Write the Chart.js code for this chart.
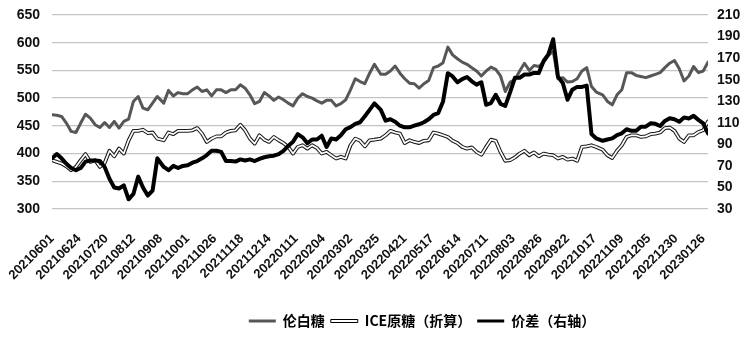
<!DOCTYPE html>
<html lang="zh-CN">
<head>
<meta charset="UTF-8">
<title>伦白糖、ICE原糖与价差</title>
<script src="https://cdn.jsdelivr.net/npm/chart.js@4/dist/chart.umd.min.js"></script>
<style>
  html, body { margin: 0; padding: 0; background: #fff; }
  #wrap { width: 744px; height: 337px; }
</style>
</head>
<body>
<div id="wrap"><canvas id="sugarChart" width="744" height="337"></canvas></div>
<script>
// 横轴：按交易日序号排列，每 17 个交易日标一个日期
const TICK_EVERY = 17;
const LAST_DAY = 411;
const TICK_DATES = [
  '20210601', '20210624', '20210720', '20210812', '20210908', '20211001', '20211026',
  '20211118', '20211214', '20220111', '20220204', '20220302', '20220325', '20220421',
  '20220517', '20220614', '20220711', '20220803', '20220826', '20220922', '20221017',
  '20221109', '20221205', '20221230', '20230126'
];

// 伦白糖（左轴）
const LBT = [
  470, 469, 467, 455, 440, 438, 455, 471, 464, 452,
  447, 456, 447, 458, 446, 458, 462, 494, 503, 482,
  479, 491, 503, 491, 514, 504, 510, 508, 508, 515,
  520, 512, 515, 504, 515, 515, 510, 515, 515, 524,
  518, 506, 490, 494, 510, 504, 496, 502, 497, 491,
  486, 500, 508, 503, 500, 495, 491, 496, 496, 486,
  490, 497, 515, 535, 530, 526, 545, 561, 543, 543,
  549, 558, 545, 535, 527, 526, 518, 526, 532, 555,
  558, 564, 592, 578, 571, 565, 561, 555, 549, 540,
  549, 556, 552, 540, 512, 529, 533, 549, 563, 550,
  559, 557, 565, 577, 585, 535, 537, 529, 530, 535,
  549, 555, 521, 511, 506, 494, 488, 506, 515, 546,
  546, 541, 539, 537, 540, 543, 546, 555, 563, 568,
  553, 531, 540, 557, 546, 549, 565
];

// ICE原糖（折算，左轴）
const ICE = [
  388, 385, 382, 377, 370, 376, 388, 399, 385, 388,
  376, 383, 405, 395, 409, 400, 424, 441, 441, 443,
  437, 438, 427, 424, 438, 435, 441, 441, 441, 442,
  446, 436, 421, 427, 431, 431, 438, 441, 442, 452,
  442, 427, 418, 433, 425, 421, 430, 424, 419, 412,
  400, 412, 415, 409, 415, 410, 400, 403, 397, 391,
  394, 391, 415, 427, 423, 413, 424, 425, 427, 433,
  441, 438, 436, 419, 424, 421, 419, 423, 424, 438,
  436, 433, 430, 423, 419, 412, 409, 411, 403, 398,
  412, 425, 423, 403, 387, 388, 393, 400, 405, 397,
  402, 395, 400, 398, 397, 391, 394, 389, 391, 387,
  412, 413, 415, 412, 407, 397, 392, 405, 415, 430,
  433, 433, 430, 431, 435, 436, 438, 446, 447, 441,
  427, 421, 433, 433, 439, 442, 458
];

// 价差（右轴）
const SPREAD = [
  77, 81, 77, 72, 68, 66, 68, 74, 75, 75,
  74.5, 69, 58, 50, 49, 52, 39, 44, 60, 50,
  42.5, 47, 77, 69, 66, 70, 68, 70, 70.5, 73,
  74.5, 77, 80, 84, 84, 83, 74.5, 74.5, 74, 76,
  75, 76, 74.5, 76.5, 78, 79, 79.5, 81, 84, 88.5,
  92.4, 99.5, 96.5, 91, 94.5, 94.5, 98, 87.5, 95.5, 94.5,
  98.5, 104, 106, 109, 110.5, 116, 122, 128, 122, 112,
  113.3, 111, 107.3, 105.8, 105.8, 107.3, 108.6, 110.5, 113.3, 117.3,
  119, 129.8, 156, 153, 147.5, 150.5, 152.5, 148.5, 145.4, 147.6,
  126.7, 128.3, 136, 127.6, 125.7, 138.2, 151.7, 151.7, 154.8, 154.8,
  156.3, 156.3, 167.3, 173.5, 187.5, 152.6, 147, 131.4, 140.7, 143.3,
  143.3, 144.5, 99.5, 95.5, 93.3, 94.5, 95.5, 98.6, 100.2, 104,
  102.5, 102.5, 106.4, 106.4, 109.5, 109, 107, 111.7, 114.2, 113.3,
  111, 115, 114, 116.4, 112.7, 109.5, 100.2
];

const SERIES_NAMES = ['伦白糖', 'ICE原糖（折算）', '价差（右轴）'];

(() => {
  'use strict';

  const COLORS = {
    lbt: '#575757',
    spread: '#000000',
    iceEdge: '#1a1a1a',
    iceCore: '#ffffff',
    grid: '#c4c4c4',
    text: '#111111'
  };

  // 采样点对应的交易日序号（大约每 3 个交易日取一个点）
  const lastIdx = LBT.length - 1;
  const dayOf = j => Math.round(j * LAST_DAY / lastIdx);
  const toPoints = arr => arr.map((v, j) => ({ x: dayOf(j), y: v }));

  const lineBase = {
    pointRadius: 0,
    pointHoverRadius: 0,
    tension: 0,
    fill: false,
    borderJoinStyle: 'round',
    borderCapStyle: 'round'
  };

  // 图例整体右移、略下移
  const legendShift = {
    id: 'legendShift',
    afterLayout(chart) {
      const lg = chart.legend;
      if (!lg) return;
      lg.left += 50;
      lg.right += 50;
      lg.top += 3;
      lg.bottom += 3;
    }
  };

  // 纵轴不额外留出上下边距，绘图区由 layout.padding 决定
  const noVPad = scale => {
    scale.paddingTop = 0;
    scale.paddingBottom = 0;
  };

  const axisFont = { family: '"Liberation Sans", Arial, sans-serif', size: 14, weight: 'bold' };

  new Chart(document.getElementById('sugarChart'), {
    type: 'line',
    data: {
      datasets: [
        { ...lineBase, label: SERIES_NAMES[2], data: toPoints(SPREAD), yAxisID: 'y1', borderColor: COLORS.spread, borderWidth: 4, order: 0 },
        { ...lineBase, label: SERIES_NAMES[0], data: toPoints(LBT), yAxisID: 'y', borderColor: COLORS.lbt, borderWidth: 3, order: 1 },
        { ...lineBase, label: SERIES_NAMES[1], data: toPoints(ICE), yAxisID: 'y', borderColor: COLORS.iceCore, borderWidth: 1.7, order: 2 },
        { ...lineBase, label: 'ice-edge', data: toPoints(ICE), yAxisID: 'y', borderColor: COLORS.iceEdge, borderWidth: 3.8, order: 3 }
      ]
    },
    options: {
      responsive: false,
      animation: false,
      devicePixelRatio: 1,
      layout: { padding: { top: 15, bottom: 2, left: 0, right: 0 } },
      plugins: {
        tooltip: { enabled: false },
        legend: {
          position: 'bottom',
          align: 'center',
          labels: {
            boxWidth: 27,
            boxHeight: 3,
            padding: 6,
            color: COLORS.text,
            font: { family: '"Noto Sans CJK SC", sans-serif', size: 14, weight: 'bold' },
            generateLabels() {
              return [
                { text: SERIES_NAMES[0], fillStyle: COLORS.lbt, strokeStyle: COLORS.lbt, lineWidth: 0, hidden: false, datasetIndex: 1 },
                { text: SERIES_NAMES[1], fillStyle: '#fff', strokeStyle: '#000', lineWidth: 1, hidden: false, datasetIndex: 2 },
                { text: SERIES_NAMES[2], fillStyle: COLORS.spread, strokeStyle: COLORS.spread, lineWidth: 0, hidden: false, datasetIndex: 0 }
              ];
            }
          }
        }
      },
      scales: {
        x: {
          type: 'linear',
          min: 0,
          max: LAST_DAY,
          grid: { display: false, drawTicks: false },
          border: { display: false },
          afterBuildTicks(scale) {
            scale.ticks = TICK_DATES.map((_, i) => ({ value: i * TICK_EVERY }));
          },
          ticks: {
            autoSkip: false,
            minRotation: 45,
            maxRotation: 45,
            padding: 22,
            color: COLORS.text,
            font: { family: '"Liberation Sans", Arial, sans-serif', size: 13, weight: 'bold' },
            callback: value => TICK_DATES[Math.round(value / TICK_EVERY)]
          },
          afterFit(scale) {
            scale.height = 96;
            scale.paddingLeft = 0;
            scale.paddingRight = 0;
          }
        },
        y: {
          position: 'left',
          min: 300,
          max: 650,
          grid: { color: COLORS.grid, lineWidth: 1.3, drawTicks: false },
          border: { display: false },
          ticks: { stepSize: 50, padding: 12, color: COLORS.text, font: axisFont },
          afterFit(scale) { scale.width = 52; noVPad(scale); }
        },
        y1: {
          position: 'right',
          min: 30,
          max: 210,
          grid: { display: false, drawTicks: false },
          border: { display: false },
          ticks: { stepSize: 20, padding: 9, color: COLORS.text, font: axisFont },
          afterFit(scale) { scale.width = 36; noVPad(scale); }
        }
      }
    },
    plugins: [legendShift]
  });
})();
</script>
</body>
</html>
